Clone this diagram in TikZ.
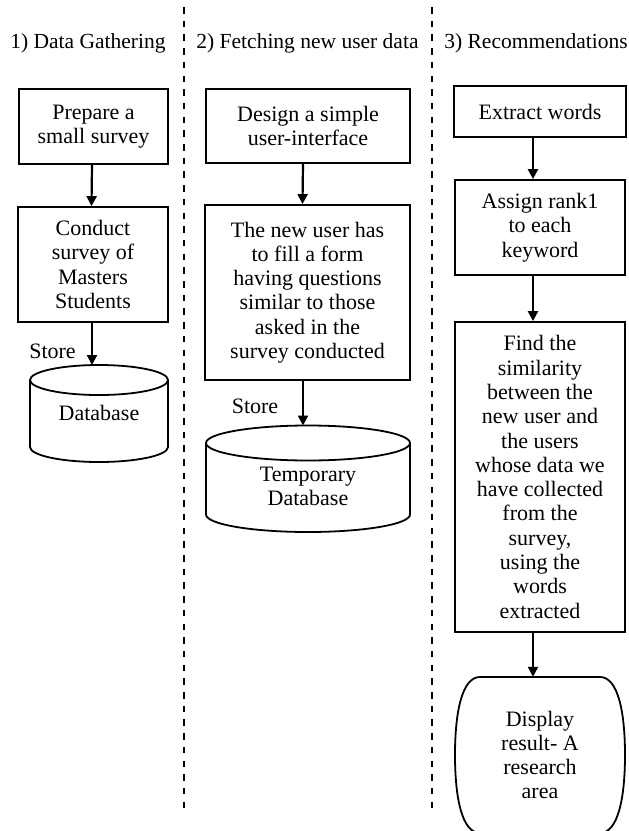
\documentclass[tikz,border=0pt]{standalone}
\usepackage{fontspec}
\setmainfont{Liberation Serif}
\usetikzlibrary{arrows.meta,calc}
\newcommand\mybody{\fontsize{22}{24.3}\selectfont}
\newcommand\myhead{\fontsize{21.5}{24}\selectfont}
\begin{document}
\begin{tikzpicture}[x=1pt,y=1pt,
  box/.style={draw, line width=1.8pt, inner sep=0pt, align=center, font=\mybody},
  txt/.style={inner sep=0pt, align=center, font=\mybody},
  head/.style={inner sep=0pt, anchor=base, font=\myhead},
  arr/.style={line width=2.2pt, -{Triangle[length=10pt,width=10pt]}},
  outline/.style={line width=1.8pt},
  sep/.style={line width=2.2pt, dash pattern=on 6.5pt off 7.2pt}]
\useasboundingbox (0,0) rectangle (629,-831);
\clip (0,0) rectangle (629,-831);

% separators
\draw[sep] (184,-7) -- (184,-813);
\draw[sep] (432,-7) -- (432,-813);

% headers
\node[head] (h1) at (88,-48) {1) Data Gathering};
\node[head] (h2) at (307.5,-48) {2) Fetching new user data};
\node[head] (h3) at (536,-48) {3) Recommendations};

% column 1
\node[box, minimum width=149pt, minimum height=75pt] (b1) at (93.5,-126.5) {Prepare a\\small survey};
\node[box, minimum width=150pt, minimum height=115pt] (b2) at (93,-264.5) {Conduct\\survey of\\Masters\\Students};
\draw[outline] (99,-380) ellipse[x radius=69, y radius=15];
\draw[outline] (30,-380) -- (30,-447) arc[start angle=180, end angle=360, x radius=69, y radius=15] -- (168,-380);
\node[txt] (db1) at (99,-413) {Database};
\coordinate (db1top) at (92,-365);
\node[txt] (s1) at (52.5,-351) {Store};
\draw[arr] ([xshift=-1.5pt]b1.south) -- ([xshift=-1.5pt]b2.north);
\draw[arr] ([xshift=-1pt]b2.south) -- (db1top);

% column 2
\node[box, minimum width=204pt, minimum height=74pt] (c1) at (308,-126) {Design a simple\\user-interface};
\node[box, minimum width=205pt, minimum height=175pt] (c2) at (307.5,-292.5) {The new user has\\to fill a form\\having questions\\similar to those\\asked in the\\survey conducted};
\draw[outline] (308,-443) ellipse[x radius=102, y radius=17.5];
\draw[outline] (206,-443) -- (206,-514.5) arc[start angle=180, end angle=360, x radius=102, y radius=17.5] -- (410,-443);
\node[txt] (db2) at (308,-486.5) {Temporary\\Database};
\coordinate (db2top) at (303,-425.5);
\node[txt] (s2) at (255,-406) {Store};
\draw[arr] ([xshift=-5pt]c1.south) -- ([xshift=-5pt]c2.north);
\draw[arr] ([xshift=-4.5pt]c2.south) -- (db2top);

% column 3
\node[box, minimum width=172pt, minimum height=51pt] (d1) at (540,-111.5) {Extract words};
\node[box, minimum width=170pt, minimum height=95pt] (d2) at (540,-227.5) {Assign rank1\\to each\\keyword};
\node[box, minimum width=170pt, minimum height=310pt] (d3) at (540,-477) {Find the\\similarity\\between the\\new user and\\the users\\whose data we\\have collected\\from the\\survey,\\using the\\words\\extracted};
\node[txt, minimum width=170pt, minimum height=156pt] (d4) at (540,-755) {Display\\result- A\\research\\area};
\draw[outline] (480,-677) -- (600,-677)
  .. controls (618,-677) and (625,-712) .. (625,-755)
  .. controls (625,-798) and (618,-833) .. (600,-833)
  -- (480,-833)
  .. controls (462,-833) and (455,-798) .. (455,-755)
  .. controls (455,-712) and (462,-677) .. (480,-677) -- cycle;
\draw[arr] ([xshift=-7pt]d1.south) -- ([xshift=-7pt]d2.north);
\draw[arr] ([xshift=-7pt]d2.south) -- ([xshift=-7pt]d3.north);
\draw[arr] ([xshift=-7pt]d3.south) -- ([xshift=-7pt]d4.north);
\end{tikzpicture}
\end{document}
